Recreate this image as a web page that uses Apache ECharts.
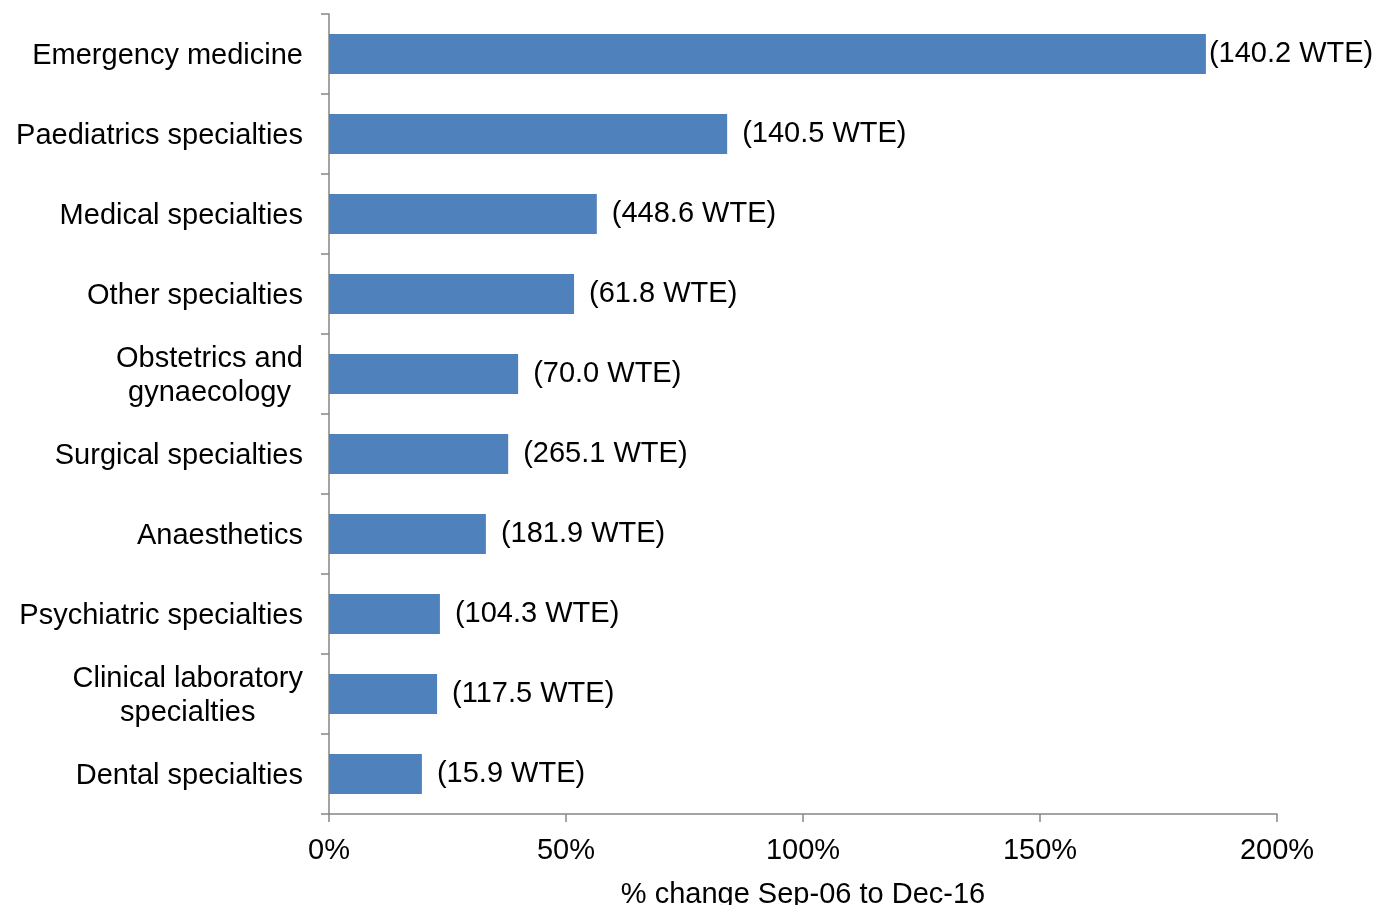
<!DOCTYPE html>
<html>
<head>
<meta charset="utf-8">
<script src="https://cdn.jsdelivr.net/npm/echarts@6/dist/echarts.min.js"></script>
<style>
  html, body { margin: 0; padding: 0; background: #fff; }
  #chart { width: 1378px; height: 905px; }
</style>
</head>
<body>
<div id="chart"></div>
<script>
// specialty groups, top to bottom
const categories = [
  'Emergency medicine',
  'Paediatrics specialties',
  'Medical specialties',
  'Other specialties',
  'Obstetrics and\ngynaecology',
  'Surgical specialties',
  'Anaesthetics',
  'Psychiatric specialties',
  'Clinical laboratory\nspecialties',
  'Dental specialties'
];
// % change Sep-06 to Dec-16
const pctChange = [185.0, 84.0, 56.5, 51.7, 39.9, 37.8, 33.1, 23.4, 22.8, 19.6];
// whole time equivalent increase, shown next to each bar
const wteLabels = ['140.2', '140.5', '448.6', '61.8', '70.0', '265.1', '181.9', '104.3', '117.5', '15.9'];
const xTicks = [0, 50, 100, 150, 200];

const FONT = '"Liberation Sans", Arial, sans-serif';
const AXIS_GREY = '#868686';

let chart = echarts.init(document.getElementById('chart'));

let barData = pctChange.map(function (v, i) {
  let item = { value: v };
  // the longest bar's label sits right against the bar end
  if (i === 0) {
    item.label = { distance: 3 };
  }
  return item;
});

let option = {
  backgroundColor: '#ffffff',
  animation: false,
  grid: {
    left: 329,
    right: 101,
    top: 14,
    bottom: 91,
    containLabel: false,
    outerBoundsMode: 'none'
  },
  xAxis: {
    type: 'value',
    min: xTicks[0],
    max: xTicks[xTicks.length - 1],
    interval: 50,
    name: '% change Sep-06 to Dec-16',
    nameLocation: 'middle',
    nameGap: 66,
    nameTextStyle: { fontFamily: FONT, fontSize: 29, color: '#000' },
    axisLine: { show: true, lineStyle: { color: AXIS_GREY, width: 1.5 } },
    axisTick: { show: true, length: 8, lineStyle: { color: AXIS_GREY, width: 1.5 } },
    axisLabel: {
      margin: 22,
      fontFamily: FONT,
      fontSize: 29,
      color: '#000',
      formatter: '{value}%'
    },
    splitLine: { show: false }
  },
  yAxis: {
    type: 'category',
    inverse: true,
    data: categories,
    axisLine: { show: true, lineStyle: { color: AXIS_GREY, width: 1.5 } },
    axisTick: { show: true, length: 8, alignWithLabel: false, lineStyle: { color: AXIS_GREY, width: 1.5 } },
    axisLabel: {
      margin: 26,
      fontFamily: FONT,
      fontSize: 29,
      color: '#000',
      lineHeight: 34,
      // centre wrapped lines against each other, block stays right-aligned
      formatter: function (v) {
        return v.split('\n').map(function (s) { return '{c|' + s + '}'; }).join('\n');
      },
      rich: {
        c: { align: 'center', fontFamily: FONT, fontSize: 29, color: '#000', lineHeight: 34, padding: [3, 0, 0, 0] }
      }
    }
  },
  series: [
    {
      type: 'bar',
      data: barData,
      barWidth: '50%',
      itemStyle: { color: '#4F81BD' },
      label: {
        show: true,
        position: 'right',
        distance: 15,
        padding: [5, 0, 0, 0],
        fontFamily: FONT,
        fontSize: 29,
        color: '#000',
        formatter: function (p) {
          return '(' + wteLabels[p.dataIndex] + ' WTE)';
        }
      }
    }
  ]
};

chart.setOption(option);
</script>
</body>
</html>
